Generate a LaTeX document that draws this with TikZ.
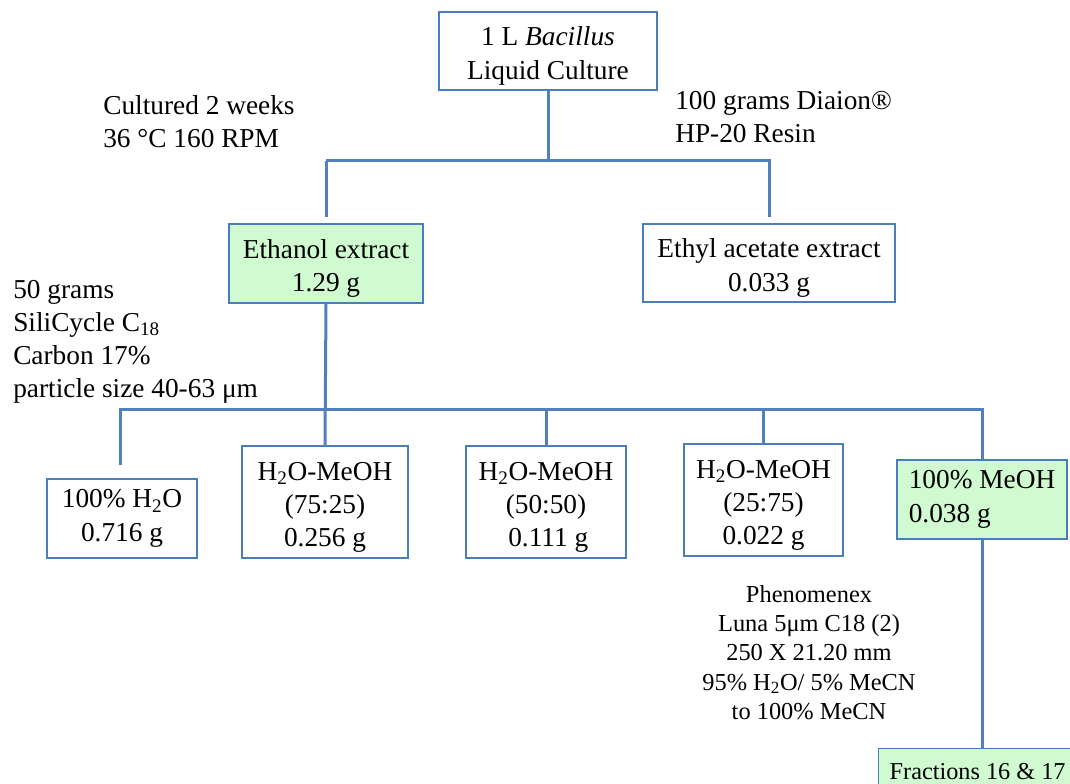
\documentclass[tikz,border=0pt]{standalone}
\usepackage{fontspec}
\setmainfont{Liberation Serif}
\definecolor{lineblue}{RGB}{79,129,189}
\definecolor{boxblue}{RGB}{74,126,187}
\definecolor{lightgreen}{RGB}{208,250,208}
\newcommand\mainfs{\fontsize{20.5}{25}\selectfont}
\newcommand\labfs{\fontsize{20.5}{24.75}\selectfont}
\newcommand\phenfs{\fontsize{18.3}{22}\selectfont}
\newcommand\fracfs{\fontsize{18.2}{22}\selectfont}
\newcommand\tp{\rule{0pt}{21.5pt}}
\begin{document}
\begin{tikzpicture}[x=0.75pt,y=-0.75pt,
  box/.style={draw=boxblue, line width=1pt, fill=white, align=center, inner sep=0pt, font=\mainfs},
  greenbox/.style={box, fill=lightgreen},
  bw/.style={minimum width=#1*0.75pt},
  bh/.style={minimum height=#1*0.75pt},
  conn/.style={draw=lineblue, line width=2.25pt},
  lab/.style={align=left, inner sep=0pt, anchor=north west, font=\labfs},
  phenlab/.style={align=center, inner sep=0pt, anchor=north, font=\phenfs}]
\useasboundingbox (0,0) rectangle (1070,784);
\clip (0,0) rectangle (1070,784);

% boxes
\node[box, bw=218, bh=78] (top) at (548,51) {\tp 1 L \textit{Bacillus}\\Liquid Culture};
\node[greenbox, bw=194, bh=79] (eth) at (326,263.5) {\tp Ethanol extract\\1.29 g};
\node[box, bw=252, bh=78] (ea) at (769,263) {\tp Ethyl acetate extract\\0.033 g};
\node[box, bw=150, bh=79] (h2o) at (122,518.5) {100\% H\textsubscript{2}O\\0.716 g};
\node[box, bw=166, bh=112] (m75) at (325,502) {\tp H\textsubscript{2}O-MeOH\\(75:25)\\0.256 g};
\node[box, bw=160, bh=112] (m50) at (546,502) {\tp H\textsubscript{2}O-MeOH\\(50:50)\\\,0.111 g};
\node[box, bw=159, bh=112] (m25) at (763.5,500) {\tp H\textsubscript{2}O-MeOH\\(25:75)\\0.022 g};
\node[greenbox, bw=170, bh=79, align=left] (meoh) at (982,499.5) {100\% MeOH\\0.038 g};
\node[greenbox, anchor=north west, font=\fracfs, inner xsep=11*0.75pt, text height=31*0.75pt, text depth=20*0.75pt] (frac) at (878,748) {Fractions 16 \& 17};

% labels
\node[lab] (cult) at (103,95) {Cultured 2 weeks\\36 °C 160 RPM};
\node[lab] (resin) at (675,91) {100 grams Diaion®\\HP-20 Resin};
\node[lab] (sili) at (13,280) {50 grams\\SiliCycle C\textsubscript{18}\\Carbon 17\%\\particle size 40-63 μm};
\node[phenlab] (phen) at (809,585) {Phenomenex\\Luna 5μm C18 (2)\\250 X 21.20 mm\\95\% H\textsubscript{2}O/ 5\% MeCN\\to 100\% MeCN};

% connectors
\coordinate (b1) at (548,161);
\coordinate (b2) at (326,409);
\coordinate (h2oend) at (120,465);
\draw[conn] (top.south) -- (b1);
\draw[conn, shorten >=4.5pt] (eth.north |- b1) -- (ea.north |- b1) -- (ea.north);
\draw[conn, shorten >=4.5pt] (eth.north |- b1) -- (eth.north);
\draw[conn] (eth.south) -- (m75.north);
\draw[conn] (h2oend) -- (h2oend |- b2) -- (meoh.north |- b2) -- (meoh.north);
\draw[conn] (m50.north |- b2) -- (m50.north);
\draw[conn] (m25.north |- b2) -- (m25.north);
\draw[conn] (meoh.south) -- (meoh.south |- frac.north);
\end{tikzpicture}
\end{document}
